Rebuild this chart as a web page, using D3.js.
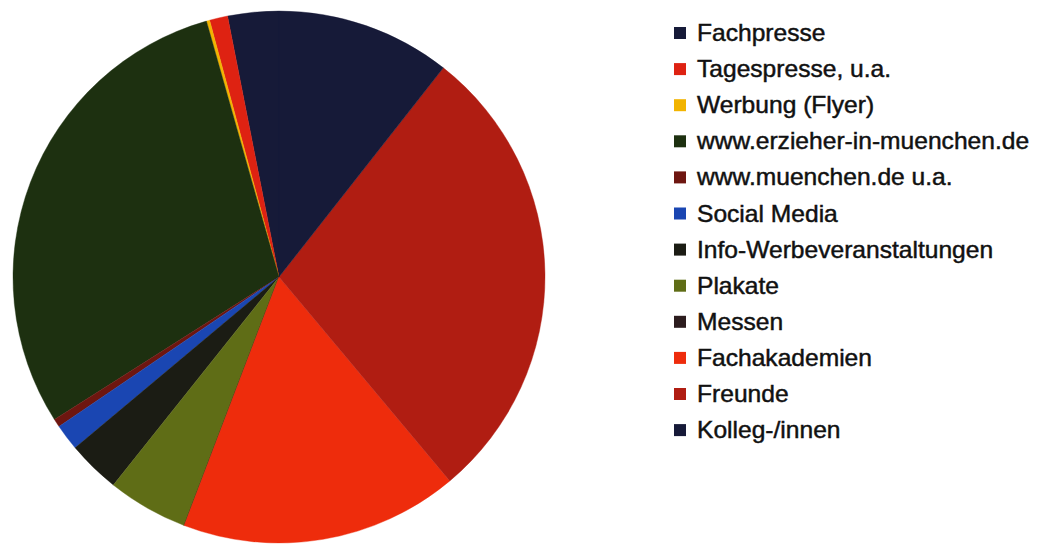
<!DOCTYPE html>
<html>
<head>
<meta charset="utf-8">
<script src="https://cdn.jsdelivr.net/npm/d3@7/dist/d3.min.js"></script>
<style>
  html, body { margin: 0; padding: 0; background: #ffffff; }
  svg { display: block; }
</style>
</head>
<body>
<svg id="chart" width="1040" height="544"></svg>
<script>
// Categories (legend order)
const categories = [
  "Fachpresse",
  "Tagespresse, u.a.",
  "Werbung (Flyer)",
  "www.erzieher-in-muenchen.de",
  "www.muenchen.de u.a.",
  "Social Media",
  "Info-Werbeveranstaltungen",
  "Plakate",
  "Messen",
  "Fachakademien",
  "Freunde",
  "Kolleg-/innen"
];
// Shares in percent
const values = [3.1, 1.1, 0.2, 29.6, 0.5, 1.6, 3.2, 4.9, 0.0, 16.9, 28.3, 10.6];
const colors = [
  "#161a38", "#de2212", "#f2b400", "#1d3010", "#6e1610", "#1a46b2",
  "#1b1c14", "#5f6d16", "#2c1c1e", "#ee2c0c", "#b01d12", "#161a38"
];

const svg = d3.select("#chart");
const cx = 279, cy = 277, R = 266;

const pie = d3.pie().sort(null).value(d => d)
  .startAngle(0).endAngle(-2 * Math.PI);
const arc = d3.arc().innerRadius(0).outerRadius(R);

const g = svg.append("g").attr("transform", `translate(${cx},${cy})`);
g.selectAll("path")
  .data(pie(values))
  .join("path")
  .attr("d", arc)
  .attr("fill", (d, i) => colors[i])
  .attr("stroke", (d, i) => colors[i])
  .attr("stroke-width", 0.4);

// Legend
const legX = 673, legY0 = 41, legStep = 36.1;
const leg = svg.append("g");
const rows = leg.selectAll("g.row")
  .data(categories)
  .join("g")
  .attr("class", "row")
  .attr("transform", (d, i) => `translate(${legX},${legY0 + i * legStep})`);
rows.append("rect")
  .attr("x", 1).attr("y", -14)
  .attr("width", 12).attr("height", 12)
  .attr("fill", (d, i) => colors[i]);
rows.append("text")
  .attr("transform", "translate(24,0) scale(1.07,1)")
  .attr("font-family", "'Liberation Sans', Arial, sans-serif")
  .attr("font-size", 23)
  .attr("fill", "#111")
  .attr("stroke", "#111")
  .attr("stroke-width", 0.45)
  .text(d => d);
</script>
</body>
</html>
